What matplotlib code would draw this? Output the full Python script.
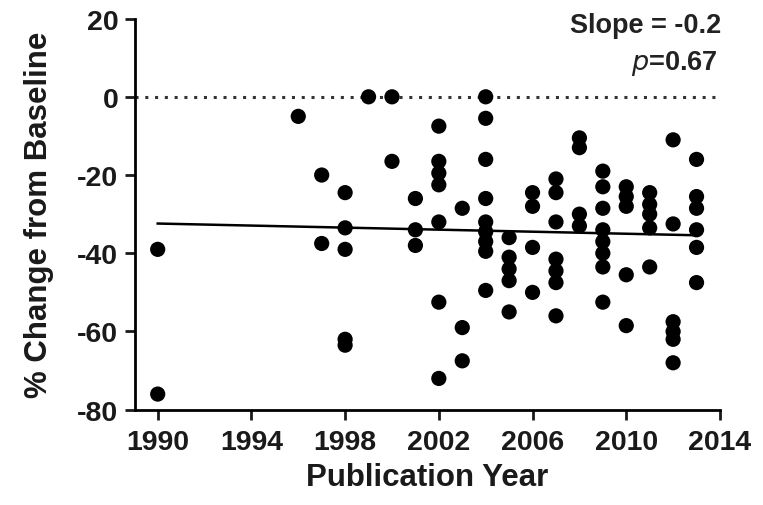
import numpy as np
import matplotlib
matplotlib.use("Agg")
import matplotlib.pyplot as plt

plt.rcParams['font.family'] = ['Liberation Sans', 'DejaVu Sans']
plt.rcParams['axes.unicode_minus'] = False

# Per-study % change from baseline, grouped by publication year
years_1990 = [1990, 1990]
vals_1990 = [-39, -76]
years_1996_2001 = [1996, 1997, 1997, 1998, 1998, 1998, 1998, 1998, 1999, 2000, 2000,
                   2001, 2001, 2001]
vals_1996_2001 = [-5, -20, -37.5, -24.5, -33.5, -39, -62, -63.5, 0, 0, -16.5,
                  -26, -34, -38]
years_2002_2005 = [2002] * 7 + [2003] * 3 + [2004] * 9 + [2005] * 5
vals_2002_2005 = [-7.5, -16.5, -19.5, -22.5, -32, -52.5, -72,
                  -28.5, -59, -67.5,
                  0, -5.5, -16, -26, -32, -34.5, -37, -39.5, -49.5,
                  -36, -41, -44, -47, -55]
years_2006_2009 = [2006] * 4 + [2007] * 7 + [2008] * 4 + [2009] * 8
vals_2006_2009 = [-24.5, -28, -38.5, -50,
                  -21, -24.5, -32, -41.5, -44.5, -47.5, -56,
                  -10.5, -13, -30, -33,
                  -19, -23, -28.5, -34, -37, -40, -43.5, -52.5]
years_2010_2013 = [2010] * 5 + [2011] * 5 + [2012] * 6 + [2013] * 6
vals_2010_2013 = [-23, -25.5, -28, -45.5, -58.5,
                  -24.5, -27.5, -30, -33.5, -43.5,
                  -11, -32.5, -57.5, -60, -62, -68,
                  -16, -25.5, -28.5, -34, -38.5, -47.5]

# fitted trend line, end points
trend_years = [1990, 2013]
trend_vals = [-32.4, -35.4]

x_ticks = [1990, 1994, 1998, 2002, 2006, 2010, 2014]
y_ticks = [-80, -60, -40, -20, 0, 20]
slope_text = "Slope = -0.2"
p_value = "0.67"

years = np.array(years_1990 + years_1996_2001 + years_2002_2005 + years_2006_2009 + years_2010_2013, float)
vals = np.array(vals_1990 + vals_1996_2001 + vals_2002_2005 + vals_2006_2009 + vals_2010_2013, float)

fig = plt.figure(figsize=(7.63, 5.06), dpi=100)
ax = fig.add_axes([0.1769, 0.1883, 0.7667, 0.7730])

# reference line at zero change
ax.axhline(0, color='#333333', lw=2.2, ls=(0, (1, 2.2)), zorder=1)

ax.scatter(years, vals, s=120, color='black', edgecolors='none', zorder=3)
ax.plot(trend_years, trend_vals, color='black', lw=1.8, zorder=2)

ax.set_xlim(1989.03, 2014)
ax.set_ylim(-80, 20)
ax.set_xticks(x_ticks)
ax.set_yticks(y_ticks)
ax.set_xticklabels([str(t) for t in x_ticks], fontsize=20.5, fontweight='bold')
ax.set_yticklabels([str(t) for t in y_ticks], fontsize=20.5, fontweight='bold')

for side in ('top', 'right'):
    ax.spines[side].set_visible(False)
for side in ('left', 'bottom'):
    ax.spines[side].set_linewidth(2.0)
ax.tick_params(axis='both', direction='out', length=7, width=2.0, colors='#1a1a1a')
ax.tick_params(axis='x', pad=7)
ax.tick_params(axis='y', pad=5)

ax.set_xlabel("Publication Year", fontsize=22.5, fontweight='bold', labelpad=5, color='#1a1a1a')
ax.set_ylabel("% Change from Baseline", fontsize=22.5, fontweight='bold', labelpad=17, color='#1a1a1a')

ax.text(1.003, 1.018, slope_text, transform=ax.transAxes, ha='right', va='top',
        fontsize=19.5, fontweight='bold', color='#222222')
ax.text(0.997, 0.925, r"$\mathbf{\mathit{p}}$=" + p_value, transform=ax.transAxes,
        ha='right', va='top', fontsize=19.5, fontweight='bold', color='#222222')

fig.savefig("out.png", dpi=100)
